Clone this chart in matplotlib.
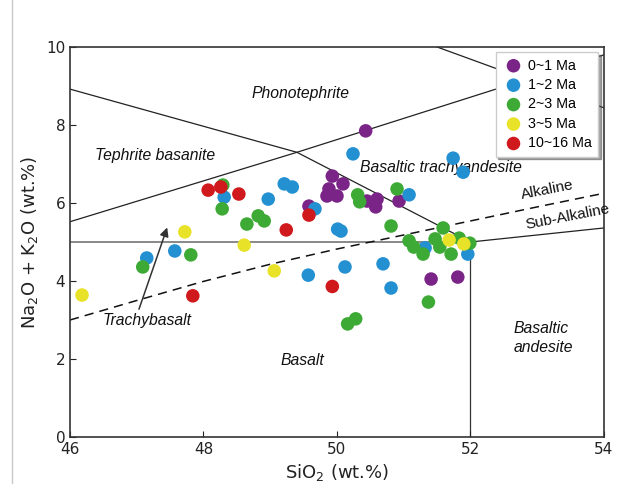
import matplotlib
matplotlib.use("Agg")
from matplotlib import pyplot as plt
from matplotlib.lines import Line2D

# 数据：SiO2 / Na2O+K2O
age_labels = ["0~1 Ma", "1~2 Ma", "2~3 Ma", "3~5 Ma", "10~16 Ma"]
age_colors = ["#7B2488", "#2390D2", "#3DAA35", "#E8E228", "#D0191C"]

sio2_0_1 = [50.43, 49.93, 50.09, 49.88, 49.85, 50.00, 50.45, 50.60, 50.58, 50.93, 49.58, 51.41, 51.81]
alk_0_1 = [7.85, 6.69, 6.49, 6.36, 6.18, 6.18, 6.05, 6.10, 5.90, 6.05, 5.92, 4.05, 4.10]

sio2_1_2 = [47.15, 47.57, 48.31, 48.97, 49.21, 49.33, 49.67, 49.57, 50.01, 50.06, 50.12, 50.69,
            50.81, 51.32, 51.96, 50.24, 51.74, 51.89, 51.08]
alk_1_2 = [4.59, 4.77, 6.15, 6.10, 6.49, 6.41, 5.85, 4.15, 5.33, 5.28, 4.36, 4.44,
           3.82, 4.85, 4.69, 7.26, 7.15, 6.79, 6.21]

sio2_2_3 = [47.09, 47.81, 48.29, 48.28, 48.65, 48.82, 48.91, 50.31, 50.34, 50.90, 50.81, 51.59,
            51.08, 51.15, 51.29, 51.47, 51.54, 51.71, 51.83, 51.99, 51.37, 50.16, 50.28]
alk_2_3 = [4.36, 4.67, 6.46, 5.85, 5.46, 5.67, 5.54, 6.21, 6.03, 6.36, 5.41, 5.36,
           5.03, 4.87, 4.69, 5.08, 4.87, 4.69, 5.10, 4.97, 3.46, 2.90, 3.03]

sio2_3_5 = [46.18, 47.72, 48.61, 49.06, 51.68, 51.90]
alk_3_5 = [3.64, 5.26, 4.92, 4.26, 5.05, 4.95]

sio2_10_16 = [47.84, 48.07, 48.26, 48.53, 49.24, 49.58, 49.93]
alk_10_16 = [3.62, 6.33, 6.41, 6.23, 5.31, 5.69, 3.86]

groups = [(sio2_0_1, alk_0_1), (sio2_1_2, alk_1_2), (sio2_2_3, alk_2_3),
          (sio2_3_5, alk_3_5), (sio2_10_16, alk_10_16)]

# TAS 分区边界线
bound_up_x = [46, 49.4, 54]
bound_up_y = [5.52, 7.3, 9.8]
bound_down_x = [46, 49.4, 52]
bound_down_y = [8.92, 7.3, 5.0]
bound_top_x = [51.5, 54]
bound_top_y = [10.0, 8.44]
bound_ba_x = [52, 54]
bound_ba_y = [5.0, 5.36]
# Alkaline / Sub-Alkaline 分界
dash_x = [46, 47, 48, 49, 50, 51, 52, 53, 54]
dash_y = [3.0, 3.5, 3.99, 4.43, 4.82, 5.18, 5.54, 5.9, 6.25]

fig = plt.figure(figsize=(6.21, 4.84), dpi=100)
ax = fig.add_axes([0.1127, 0.0971, 0.8599, 0.8058])

ax.axhline(5, xmin=0, xmax=0.75, color="#888888", linewidth=1.4, zorder=1)
ax.plot([52, 52], [0, 5], color="#333333", linewidth=0.9, zorder=1)
ax.plot(bound_up_x, bound_up_y, color="#222222", linewidth=0.9, zorder=1)
ax.plot(bound_down_x, bound_down_y, color="#222222", linewidth=0.9, zorder=1)
ax.plot(bound_top_x, bound_top_y, color="#222222", linewidth=0.9, zorder=1)
ax.plot(bound_ba_x, bound_ba_y, color="#222222", linewidth=0.9, zorder=1)
ax.plot(dash_x, dash_y, color="#111111", linewidth=1.1, linestyle=(0, (6, 4)), zorder=1)

# 散点画在文字上面
for (xs, ys), c, lab in zip(groups, age_colors, age_labels):
    ax.scatter(xs, ys, s=95, color=c, edgecolors="none", label=lab, zorder=4)

# 区域名称
it = dict(fontstyle="italic", fontsize=11.3, family="Liberation Sans", color="#111111", zorder=2)
ax.text(49.45, 8.82, "Phonotephrite", ha="center", va="center", **it)
ax.text(47.27, 7.23, "Tephrite basanite", ha="center", va="center", **it)
ax.text(51.56, 6.92, "Basaltic trachyandesite", ha="center", va="center", **it)
ax.text(47.15, 3.0, "Trachybasalt", ha="center", va="center", **it)
ax.text(49.48, 1.97, "Basalt", ha="center", va="center", **it)
ax.text(52.64, 2.54, "Basaltic\nandesite", ha="left", va="center", linespacing=1.3, **it)
ax.text(53.15, 6.33, "Alkaline", ha="center", va="center", rotation=11,
        fontsize=11, family="Liberation Sans", color="#111111")
ax.text(53.45, 5.64, "Sub-Alkaline", ha="center", va="center", rotation=11,
        fontsize=11, family="Liberation Sans", color="#111111")
ax.annotate("", xy=(47.47, 5.44), xytext=(47.02, 3.21),
            arrowprops=dict(arrowstyle="-|>", color="#333333", lw=1.1, mutation_scale=13))

ax.set_xlim(46, 54)
ax.set_ylim(0, 10)
ax.set_xticks([46, 48, 50, 52, 54])
ax.set_yticks([0, 2, 4, 6, 8, 10])
ax.tick_params(direction="in", length=4, labelsize=11, colors="#222222")
for sp in ax.spines.values():
    sp.set_color("#333333")
    sp.set_linewidth(1.2)
ax.set_xlabel("SiO$_2$ (wt.%)", fontsize=13, color="#222222", labelpad=4)
ax.set_ylabel("Na$_2$O + K$_2$O (wt.%)", fontsize=13, color="#222222", labelpad=4)

leg = ax.legend(loc="upper right", bbox_to_anchor=(0.989, 0.987), borderaxespad=0,
                shadow=True, fancybox=False, frameon=True,
                prop={"family": "Liberation Sans", "size": 10.3},
                handletextpad=0.2, handlelength=1.6, borderpad=0.45, labelspacing=0.38)
leg.get_frame().set_edgecolor("#cccccc")
leg.set_zorder(6)

# 左侧的灰色竖线
fig.add_artist(Line2D([0.019, 0.019], [0, 1], color="#c8c8c8", linewidth=1))

plt.savefig("out.png", dpi=100)
